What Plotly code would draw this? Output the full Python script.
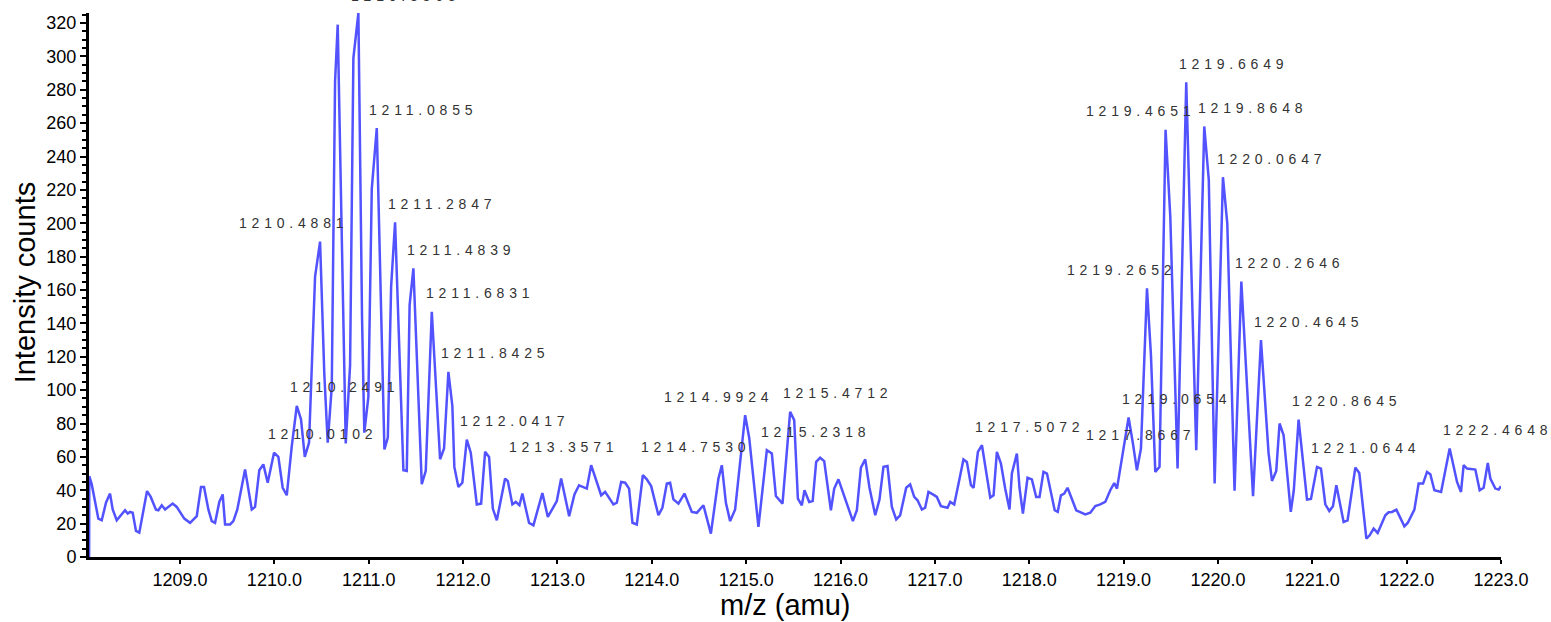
import plotly.graph_objects as go

# ---- data ----
mz = [
    1208.036, 1208.038, 1208.064, 1208.134, 1208.170, 1208.215, 1208.258, 1208.286, 1208.329, 1208.417,
    1208.445, 1208.470, 1208.498, 1208.533, 1208.568, 1208.604, 1208.650, 1208.689, 1208.745, 1208.770,
    1208.806, 1208.841, 1208.922, 1208.965, 1209.045, 1209.106, 1209.177, 1209.222, 1209.254, 1209.300,
    1209.336, 1209.371, 1209.416, 1209.452, 1209.477, 1209.530, 1209.565, 1209.607, 1209.689, 1209.760,
    1209.795, 1209.840, 1209.883, 1209.929, 1209.996, 1210.042, 1210.088, 1210.131, 1210.184, 1210.237,
    1210.282, 1210.322, 1210.367, 1210.431, 1210.484, 1210.529, 1210.565, 1210.608, 1210.643, 1210.671,
    1210.756, 1210.802, 1210.837, 1210.890, 1210.929, 1210.953, 1210.996, 1211.032, 1211.085, 1211.166,
    1211.202, 1211.237, 1211.279, 1211.367, 1211.403, 1211.433, 1211.473, 1211.562, 1211.604, 1211.668,
    1211.756, 1211.798, 1211.844, 1211.886, 1211.907, 1211.950, 1211.992, 1212.039, 1212.081, 1212.145,
    1212.191, 1212.233, 1212.275, 1212.315, 1212.357, 1212.445, 1212.474, 1212.522, 1212.558, 1212.597,
    1212.628, 1212.699, 1212.745, 1212.840, 1212.898, 1212.993, 1213.039, 1213.124, 1213.180, 1213.229,
    1213.311, 1213.357, 1213.417, 1213.463, 1213.505, 1213.593, 1213.629, 1213.675, 1213.717, 1213.759,
    1213.795, 1213.841, 1213.905, 1213.947, 1213.993, 1214.070, 1214.112, 1214.159, 1214.194, 1214.229,
    1214.282, 1214.346, 1214.424, 1214.477, 1214.547, 1214.626, 1214.706, 1214.742, 1214.785, 1214.830,
    1214.883, 1214.989, 1215.032, 1215.130, 1215.219, 1215.272, 1215.315, 1215.385, 1215.466, 1215.509,
    1215.548, 1215.590, 1215.618, 1215.668, 1215.705, 1215.742, 1215.784, 1215.827, 1215.898, 1215.933,
    1215.978, 1216.025, 1216.074, 1216.131, 1216.173, 1216.216, 1216.262, 1216.307, 1216.368, 1216.413,
    1216.455, 1216.498, 1216.544, 1216.590, 1216.632, 1216.696, 1216.738, 1216.781, 1216.816, 1216.862,
    1216.897, 1216.932, 1216.979, 1217.021, 1217.064, 1217.134, 1217.163, 1217.205, 1217.251, 1217.303,
    1217.339, 1217.382, 1217.410, 1217.456, 1217.499, 1217.544, 1217.587, 1217.622, 1217.657, 1217.700,
    1217.745, 1217.791, 1217.816, 1217.869, 1217.897, 1217.933, 1217.982, 1218.028, 1218.074, 1218.109,
    1218.151, 1218.188, 1218.241, 1218.270, 1218.302, 1218.336, 1218.371, 1218.406, 1218.498, 1218.541,
    1218.594, 1218.647, 1218.700, 1218.753, 1218.806, 1218.859, 1218.901, 1218.930, 1219.000, 1219.053,
    1219.099, 1219.141, 1219.184, 1219.248, 1219.290, 1219.336, 1219.381, 1219.445, 1219.495, 1219.572,
    1219.664, 1219.699, 1219.770, 1219.855, 1219.903, 1219.965, 1220.053, 1220.099, 1220.176, 1220.248,
    1220.372, 1220.456, 1220.537, 1220.573, 1220.618, 1220.653, 1220.696, 1220.772, 1220.804, 1220.855,
    1220.944, 1220.986, 1221.050, 1221.092, 1221.138, 1221.180, 1221.219, 1221.255, 1221.332, 1221.374,
    1221.456, 1221.498, 1221.573, 1221.608, 1221.650, 1221.693, 1221.774, 1221.809, 1221.845, 1221.891,
    1221.933, 1221.976, 1222.011, 1222.082, 1222.127, 1222.174, 1222.216, 1222.251, 1222.294, 1222.365,
    1222.456, 1222.534, 1222.576, 1222.604, 1222.640, 1222.728, 1222.774, 1222.816, 1222.860, 1222.887,
    1222.940, 1222.975, 1223.000,
]

intensity = [
    0, 48.5, 43.5, 23, 22, 32.5, 38, 28.5, 22, 28,
    26, 27, 26.5, 15.6, 14.6, 26.5, 39.5, 36, 28.3, 28,
    31, 28.5, 32, 30, 23, 20.5, 24.5, 42, 42, 28.5,
    21.5, 20.5, 33, 37.5, 19.5, 19.5, 21.5, 28.5, 52.5, 28.5,
    30, 52, 55.5, 44.5, 62.5, 60, 41.5, 37, 66.5, 90.5,
    82.5, 60, 68.5, 168, 189, 109.5, 68.5, 102, 285, 319,
    68, 115, 299, 326, 143, 74.5, 96, 220.6, 257, 64.5,
    71.6, 162, 200.6, 52, 51.6, 151, 173, 43.6, 51.6, 147,
    58.6, 65, 111, 90.5, 54, 42, 44.5, 70.4, 62.5, 31.5,
    32, 63, 60, 29, 22, 47, 45.5, 31.5, 33, 31,
    38, 20.4, 19, 38.3, 24, 33.5, 47, 24.5, 37.5, 43,
    41, 55, 45.5, 37, 39, 31.5, 32.5, 45, 44.5, 41,
    20.5, 19.5, 49, 46.5, 42.5, 25, 29.5, 44, 44.5, 34.5,
    32, 38, 27, 26.5, 31, 14, 47, 55, 32.5, 21.5,
    28.5, 85, 71.5, 18, 64, 62, 36.5, 32, 87, 82,
    35, 31, 40, 33, 33.5, 57, 59.5, 57.5, 28, 41,
    46.5, 39, 30.5, 21.5, 28, 53.5, 58.5, 41.5, 25, 34.5,
    54, 54.5, 30, 22.5, 25, 41.5, 43.5, 36, 34, 28.5,
    29.5, 39, 37.5, 36, 30.5, 29.5, 33, 31.5, 44, 58.5,
    57, 43, 41.5, 63, 67, 50, 35.6, 37, 63, 56,
    41, 28.5, 50, 62, 41.5, 26, 47.5, 46.5, 36, 36,
    51, 50, 36, 28, 27, 37, 38, 41.5, 28, 27,
    25.5, 26.5, 30.5, 31.5, 33, 40, 44.3, 41, 65, 83.6,
    68, 52, 65, 161, 121, 51, 54, 256, 204, 53,
    284.5, 207, 64, 258, 226, 44, 227.6, 200, 39.7, 165,
    36.4, 130, 62, 45.6, 51.6, 80, 73, 27, 40, 82.3,
    34.4, 34.8, 54, 53, 31.6, 27.6, 30.4, 43, 21, 22,
    53.6, 50.4, 11, 13, 17, 14.4, 25, 26.8, 27, 28.4,
    23, 18.4, 20.4, 28.4, 44, 44, 51, 49.6, 40, 39,
    65, 45, 39, 55, 53, 52.4, 40, 41.5, 56.4, 47,
    41, 40.4, 42.4,
]

peak_labels = [
    "1210.0102", "1210.2491", "1210.4881", "1210.8863", "1211.0855", "1211.2847",
    "1211.4839", "1211.6831", "1211.8425", "1212.0417", "1213.3571", "1214.7530",
    "1214.9924", "1215.2318", "1215.4712", "1217.5072", "1217.8667", "1219.0654",
    "1219.2652", "1219.4651", "1219.6649", "1219.8648", "1220.0647", "1220.2646",
    "1220.4645", "1220.8645", "1221.0644", "1222.4648",
]
peak_heights = [
    62.5, 90.5, 189, 326, 257, 200.6,
    173, 147, 111, 70.4, 55, 55,
    85, 64, 87, 67, 62, 83.6,
    161, 256, 284.5, 258, 227.6, 165,
    130, 82.3, 54, 65,
]

y_ticks = [0, 20, 40, 60, 80, 100, 120, 140, 160, 180, 200, 220, 240, 260, 280, 300, 320]
x_ticks = [1209.0, 1210.0, 1211.0, 1212.0, 1213.0, 1214.0, 1215.0, 1216.0,
           1217.0, 1218.0, 1219.0, 1220.0, 1221.0, 1222.0, 1223.0]

# ---- label placement (layout only) ----
right_side = {"1210.4881", "1213.3571", "1214.7530", "1214.9924", "1219.2652", "1219.4651"}
moved = {"1217.8667": 71}
lowered = {"1210.8863": 17.5}

FONT = "Liberation Sans, Arial, sans-serif"
LS = 4.8

fig = go.Figure()
fig.add_trace(go.Scatter(
    x=mz, y=intensity, mode="lines",
    line=dict(color="#5252FF", width=2.5),
    hoverinfo="x+y", showlegend=False,
))

annotations = []
for lab, h in zip(peak_labels, peak_heights):
    if lab in right_side:
        xa, xs = "right", 21 + LS + 1.5
    else:
        xa, xs = "left", moved.get(lab, -6) - 1.5
    annotations.append(dict(
        x=float(lab), y=h, xref="x", yref="y",
        text=f'<span style="letter-spacing:{LS}px">{lab}</span>',
        showarrow=False, xanchor=xa, yanchor="middle",
        xshift=xs, yshift=lowered.get(lab, 18.5), borderpad=0, borderwidth=0,
        font=dict(family=FONT, size=14, color="#333333"),
    ))

annotations.append(dict(
    x=-0.0453, y=0.505, xref="paper", yref="paper", text="Intensity counts",
    textangle=-90, showarrow=False, xanchor="center", yanchor="middle",
    font=dict(family=FONT, size=29, color="#000000"),
))
annotations.append(dict(
    x=0.493, y=-0.0888, xref="paper", yref="paper", text="m/z (amu)",
    showarrow=False, xanchor="center", yanchor="middle",
    font=dict(family=FONT, size=29, color="#000000"),
))

fig.update_layout(
    width=1551, height=622,
    margin=dict(l=89, r=50, t=13, b=65),
    paper_bgcolor="white", plot_bgcolor="white",
    annotations=annotations,
    font=dict(family=FONT, color="#000000"),
)
fig.update_xaxes(
    range=[1208.035, 1223.0], tickvals=x_ticks, tickformat=".1f",
    showgrid=False, zeroline=False, showline=True, linecolor="black", linewidth=3,
    ticks="outside", ticklen=4, tickwidth=2, tickcolor="black",
    tickfont=dict(family=FONT, size=18, color="#000000"),
)
fig.update_yaxes(
    range=[0, 326], tickvals=y_ticks,
    showgrid=False, zeroline=False, showline=True, linecolor="black", linewidth=3,
    ticks="outside", ticklen=6, tickwidth=2, tickcolor="black",
    minor=dict(dtick=5, tick0=0, ticks="outside", ticklen=4, tickwidth=2, tickcolor="black"),
    tickfont=dict(family=FONT, size=18, color="#000000"),
)

fig.write_html("out.html")
